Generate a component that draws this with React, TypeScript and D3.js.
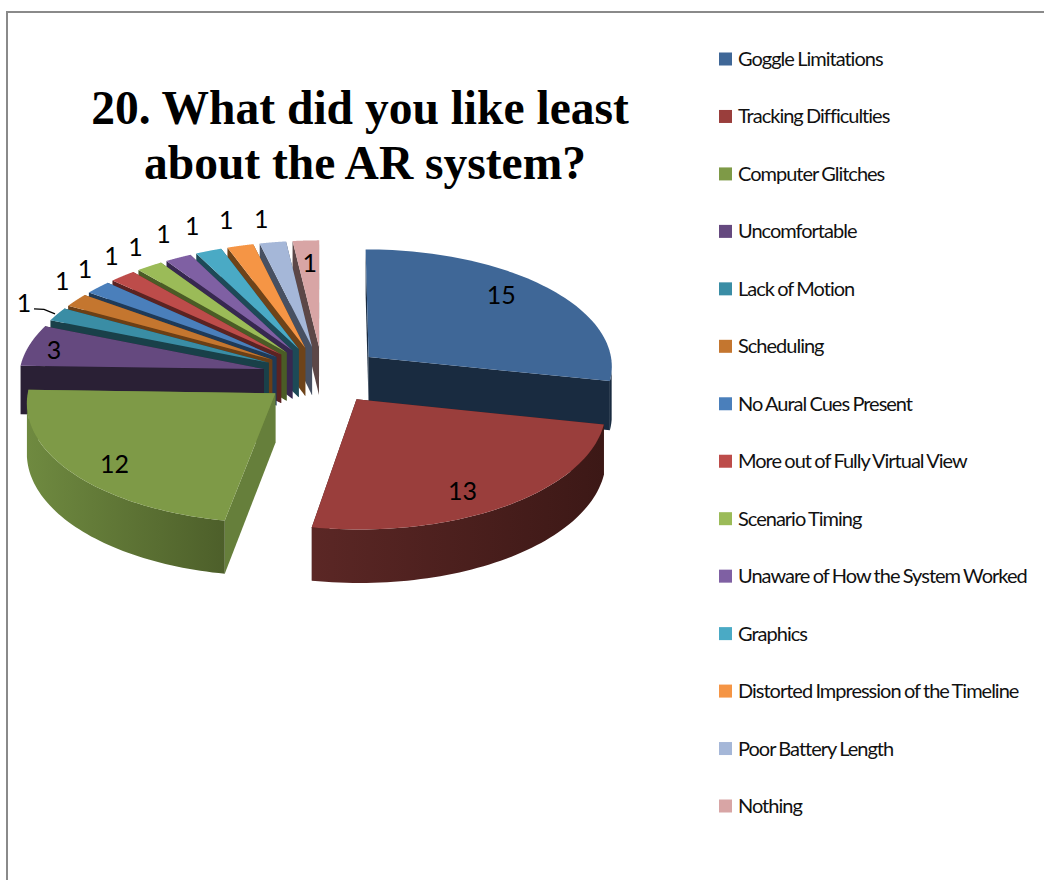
import React from "react";
import * as d3 from "d3";

// Survey responses, in the order they appear clockwise from twelve o'clock.
const categories = [
  "Goggle Limitations",
  "Tracking Difficulties",
  "Computer Glitches",
  "Uncomfortable",
  "Lack of Motion",
  "Scheduling",
  "No Aural Cues Present",
  "More out of Fully Virtual View",
  "Scenario Timing",
  "Unaware of How the System Worked",
  "Graphics",
  "Distorted Impression of the Timeline",
  "Poor Battery Length",
  "Nothing",
];
const responses = [15, 13, 12, 3, 1, 1, 1, 1, 1, 1, 1, 1, 1, 1];
const titleLines = ["20. What did you like least", "about the AR system?"];

const topColors = ["#3f6797", "#9a3e3c", "#7e9a47", "#65497f", "#3a8da5", "#c4762f", "#4a7fbb", "#bd4c4a", "#9bbb58", "#7f60a3", "#4aaac5", "#f59545", "#a5b7d8", "#d8a5a5"];
const cutColors = ["#192b40", "#3f1917", "#667f3b", "#2a2035", "#194049", "#6b3f16", "#1f3a57", "#5b2322", "#4a5c26", "#372850", "#1d4a57", "#6e4319", "#475062", "#5c4747"];
const wallStart = ["#192b40", "#5b2725", "#6f8a40", "#2a2035", "#194049", "#6b3f16", "#1f3a57", "#5b2322", "#4a5c26", "#372850", "#1d4a57", "#6e4319", "#475062", "#5c4747"];
const wallEnd = ["#192b40", "#3c1816", "#4d5f2a", "#2a2035", "#194049", "#6b3f16", "#1f3a57", "#5b2322", "#4a5c26", "#372850", "#1d4a57", "#6e4319", "#475062", "#5c4747"];

// Pie geometry: radius and centre on screen, tilt, perspective strength,
// wall height and how far each slice is pulled out of the pie.
const cx = 322.5;
const cy = 375;
const radius = 245;
const tilt = 0.48;
const perspective = 0.07;
const wallHeight = 49;
const explode = 0.245;

type P = [number, number];

// Maps a point on the pie's plane (unit radius, v towards the viewer) to the screen.
function project(u: number, v: number, drop = 0): P {
  const f = 1 / (1 - perspective * v);
  return [cx + radius * u * f, cy + radius * tilt * v * f + drop * f];
}

const arcs = d3.pie<number>().sort(null).startAngle(0).endAngle(2 * Math.PI)(responses);

const toPath = d3.line<P>();
const polar = (a: number): P => [Math.sin(a), -Math.cos(a)];

const slices = arcs.map((arc, i) => {
  const mid = (arc.startAngle + arc.endAngle) / 2;
  const [mu, mv] = polar(mid);
  const u0 = mu * explode;
  const v0 = mv * explode;
  const at = (a: number, r = 1, drop = 0) => {
    const [s, c] = polar(a);
    return project(u0 + s * r, v0 + c * r, drop);
  };
  const steps = d3.range(0, 61).map((k) => arc.startAngle + ((arc.endAngle - arc.startAngle) * k) / 60);
  const top: P[] = [at(0, 0), ...steps.map((a) => at(a))];
  const cut = (a: number): P[] => [at(0, 0), at(a), at(a, 1, wallHeight), at(0, 0, wallHeight)];
  const front = steps.filter((a) => polar(a)[1] > 0.1);
  const wall: P[] = front.length
    ? [...front.map((a) => at(a)), ...front.slice().reverse().map((a) => at(a, 1, wallHeight))]
    : [];
  return { i, mid, mv, at, top, startCut: cut(arc.startAngle), endCut: cut(arc.endAngle), wall };
});

// Painter's order: slices further from the viewer go down first.
const paintOrder = slices.slice().sort((a, b) => a.mv - b.mv);

// Where each value label sits along its slice's mid-angle, with a hand nudge per label.
const insideReach = 0.85;
const outsideReach = 1.1;
const outsideShift: P = [-5, -13];
const labelNudge: P[] = [
  [-20, -4], [-20, 1], [11, 3], [-10, 0],
  [-6, -3], [10, -2], [9, 0], [9, -1], [4, 1], [1, -3], [-3, -4], [-3, -4], [-3, -2],
  [2, 6],
];

const labels = slices.map((s) => {
  const inside = responses[s.i] > 1 || s.i === responses.length - 1;
  const [x, y] = s.at(s.mid, inside ? insideReach : outsideReach);
  const [nx, ny] = labelNudge[s.i];
  return inside
    ? { x: x + nx, y: y + ny }
    : { x: x + outsideShift[0] + nx, y: y + outsideShift[1] + ny };
});

// The first small slice's label is pushed aside and tied back with a leader.
const leaderIndex = 4;
const leaderAnchor = slices[leaderIndex].at(slices[leaderIndex].mid, 1.01);
labels[leaderIndex] = { x: leaderAnchor[0] - 31, y: leaderAnchor[1] - 12 };

const legendY = d3.scalePoint<number>().domain(d3.range(categories.length)).range([59, 806]);

export default function App() {
  return (
    <svg
      width={1044}
      height={880}
      style={{ position: "absolute", left: 0, top: 0, background: "#fff" }}
    >
      <defs>
        {slices.map((s) => (
          <linearGradient key={s.i} id={`wall-${s.i}`} x1="0" x2="1" y1="0" y2="0">
            <stop offset="0" stopColor={wallStart[s.i]} />
            <stop offset="1" stopColor={wallEnd[s.i]} />
          </linearGradient>
        ))}
      </defs>

      <path d="M1044,12H7V880" fill="none" stroke="#8a8a8a" strokeWidth={2} />

      <g fontFamily="'Liberation Serif', serif" fontWeight={700} fontSize={47.5} textAnchor="middle" fill="#000">
        <text x={360} y={124}>{titleLines[0]}</text>
        <text x={365} y={179}>{titleLines[1]}</text>
      </g>

      <g>
        {paintOrder.map((s) => (
          <g key={s.i}>
            <path d={toPath(s.endCut) + "Z"} fill={cutColors[s.i]} />
            <path d={toPath(s.startCut) + "Z"} fill={cutColors[s.i]} />
            {s.wall.length > 0 && <path d={toPath(s.wall) + "Z"} fill={`url(#wall-${s.i})`} />}
            <path d={toPath(s.top) + "Z"} fill={topColors[s.i]} />
          </g>
        ))}
      </g>

      <path
        d={`M${leaderAnchor[0] - 21},${leaderAnchor[1] - 5}L${leaderAnchor[0] - 11},${leaderAnchor[1] - 4.5}L${leaderAnchor[0]},${leaderAnchor[1]}`}
        fill="none"
        stroke="#000"
        strokeWidth={1.3}
      />

      <g fontFamily="Lato, sans-serif" fontSize={25} textAnchor="middle" fill="#000">
        {labels.map((l, i) => (
          <text key={i} x={l.x} y={l.y} dominantBaseline="central">{responses[i]}</text>
        ))}
      </g>

      <g fontFamily="Lato, sans-serif" fontSize={20} letterSpacing={-1} wordSpacing={-0.8} fill="#111">
        {categories.map((name, i) => (
          <g key={name} transform={`translate(719,${legendY(i)})`}>
            <rect x={0} y={-6.5} width={13} height={13} fill={topColors[i]} />
            <text x={19} y={-1} dominantBaseline="central">{name}</text>
          </g>
        ))}
      </g>
    </svg>
  );
}
